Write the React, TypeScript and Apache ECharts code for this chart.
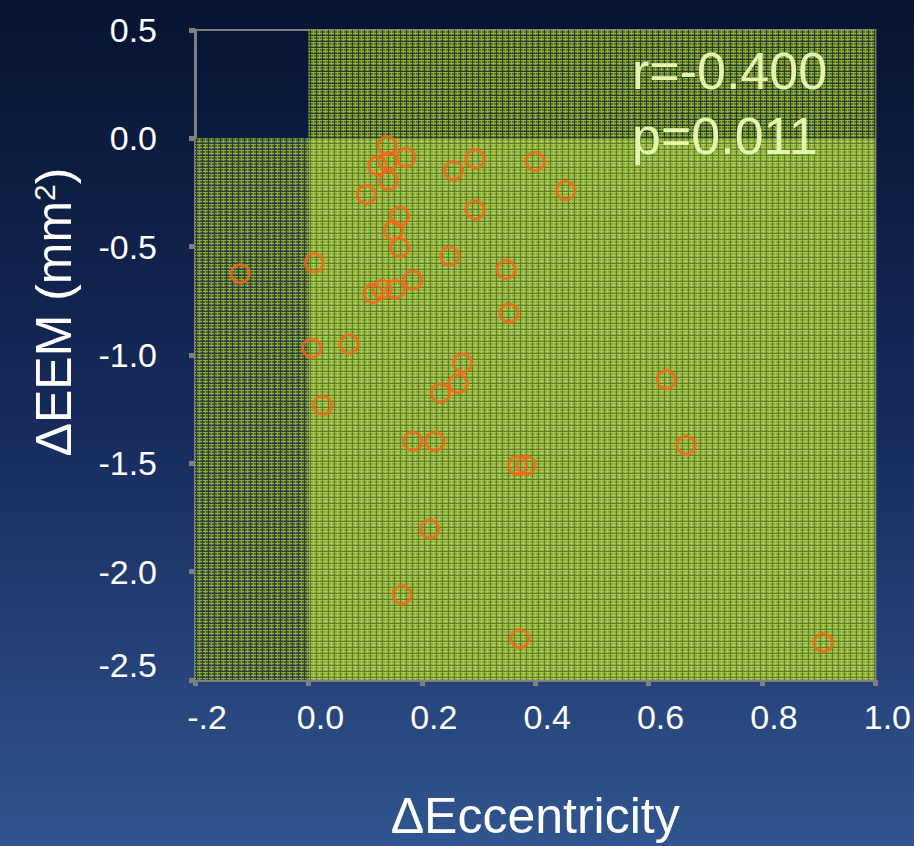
import React, { useEffect, useRef } from "react";
import * as echarts from "echarts";

const eccentricity = [
  -0.12, 0.01, 0.006, 0.025, 0.072, 0.102, 0.114, 0.13, 0.153, 0.122,
  0.139, 0.141, 0.14, 0.172, 0.161, 0.15, 0.161, 0.184, 0.184, 0.223,
  0.233, 0.264, 0.272, 0.249, 0.256, 0.294, 0.294, 0.349, 0.354, 0.4,
  0.454, 0.369, 0.384, 0.214, 0.165, 0.373, 0.631, 0.666, 0.908,
];
const eem = [
  -0.624, -0.575, -0.968, -1.232, -0.949, -0.259, -0.716, -0.697, -0.697, -0.126,
  -0.034, -0.195, -0.106, -0.088, -0.36, -0.425, -0.504, -0.654, -1.398, -1.398,
  -1.175, -1.132, -1.037, -0.544, -0.149, -0.095, -0.33, -0.605, -0.807, -0.106,
  -0.241, -1.509, -1.509, -1.803, -2.107, -2.309, -1.114, -1.417, -2.327,
];
const xTicks = { min: -0.2, max: 1.0, interval: 0.2 };
const yTicks = { min: -2.5, max: 0.5, interval: 0.5 };
const statLines = ["r=-0.400", "p=0.011"];

function makePattern(base: string, light: string, dark: string): any {
  const c = document.createElement("canvas");
  c.width = 6;
  c.height = 6;
  const ctx = c.getContext("2d");
  if (!ctx) return base;
  ctx.fillStyle = base;
  ctx.fillRect(0, 0, 6, 6);
  ctx.fillStyle = light;
  ctx.fillRect(0, 0, 6, 1);
  ctx.fillRect(0, 3, 6, 1);
  ctx.fillRect(1, 0, 1, 6);
  ctx.fillStyle = dark;
  ctx.fillRect(4, 0, 1, 6);
  ctx.fillRect(0, 5, 6, 1);
  return { image: c.toDataURL(), repeat: "repeat" };
}

export default function App() {
  const ref = useRef<HTMLDivElement>(null);
  useEffect(() => {
    if (!ref.current) return;
    const chart = echarts.init(ref.current, null, { renderer: "svg" });
    const font = "'Liberation Sans', Arial, sans-serif";
    const axisGray = "#7f7f7f";
    const bright = makePattern("#88a83a", "#aacd4a", "#607c32");
    const upper = makePattern("#56712b", "#8cb03a", "#2c3c24");
    const left = makePattern("#4b6131", "#88aa3c", "#2c3c40");
    chart.setOption({
      animation: false,
      backgroundColor: {
        type: "linear", x: 0, y: 0, x2: 0, y2: 1,
        colorStops: [
          { offset: 0, color: "#061430" },
          { offset: 0.5, color: "#172b5c" },
          { offset: 1, color: "#30558f" },
        ],
      },
      grid: {
        left: 195, right: 26, top: 30, bottom: 163,
        show: true, borderColor: axisGray, borderWidth: 2,
        backgroundColor: "transparent",
      },
      xAxis: {
        type: "value",
        min: xTicks.min, max: xTicks.max, interval: xTicks.interval,
        name: "ΔEccentricity",
        nameLocation: "middle",
        nameGap: 111,
        nameTextStyle: { color: "#ffffff", fontSize: 50, fontFamily: font },
        axisLine: { show: true, onZero: false, lineStyle: { color: axisGray, width: 3 } },
        axisTick: { show: true, length: 6, lineStyle: { color: axisGray, width: 5 } },
        splitLine: { show: false },
        axisLabel: {
          color: "#ffffff", fontSize: 34, fontFamily: font, margin: 20,
          padding: [0, 0, 0, 24],
          formatter: (v: number) => (Math.abs(v + 0.2) < 1e-9 ? "-.2" : v.toFixed(1)),
        },
      },
      yAxis: {
        type: "value",
        min: yTicks.min, max: yTicks.max, interval: yTicks.interval,
        axisLine: { show: true, onZero: false, lineStyle: { color: axisGray, width: 3 } },
        axisTick: { show: true, length: 6, lineStyle: { color: axisGray, width: 5 } },
        splitLine: { show: false },
        axisLabel: {
          color: "#ffffff", fontSize: 34, fontFamily: font, margin: 38,
          formatter: (v: number) =>
            Math.abs(v - yTicks.min) < 1e-9 ? "{up|" + v.toFixed(1) + "}" : v.toFixed(1),
          rich: {
            up: { color: "#ffffff", fontSize: 34, fontFamily: font, padding: [0, 0, 30, 0] },
          },
        },
      },
      graphic: [
        {
          type: "text", x: 54, y: 312, rotation: Math.PI / 2,
          style: {
            text: "ΔEEM (mm{sup|2})",
            fill: "#ffffff", fontSize: 50, fontFamily: font,
            align: "center", verticalAlign: "middle",
            rich: { sup: { fontSize: 30, fill: "#ffffff", fontFamily: font, verticalAlign: "top", padding: [0, 0, 20, 0] } },
          },
        },
        {
          type: "text", left: 632, top: 45, z: 10,
          style: { text: statLines[0], fill: "#e6f5ae", fontSize: 52, fontFamily: font },
        },
        {
          type: "text", left: 632, top: 110, z: 10,
          style: { text: statLines[1], fill: "#e6f5ae", fontSize: 52, fontFamily: font },
        },
      ],
      series: [
        {
          type: "scatter",
          data: [],
          z: 1,
          silent: true,
          markArea: {
            silent: true,
            label: { show: false },
            data: [
              [{ xAxis: 0, yAxis: yTicks.min, itemStyle: { color: bright, opacity: 1 } }, { xAxis: xTicks.max, yAxis: 0 }],
              [{ xAxis: 0, yAxis: 0, itemStyle: { color: upper, opacity: 1 } }, { xAxis: xTicks.max, yAxis: yTicks.max }],
              [{ xAxis: xTicks.min, yAxis: yTicks.min, itemStyle: { color: left, opacity: 1 } }, { xAxis: 0, yAxis: 0 }],
            ],
          },
        },
        {
          type: "scatter",
          z: 5,
          symbol: "circle",
          symbolSize: 18,
          itemStyle: { color: "rgba(0,0,0,0)", borderColor: "#fa6414", borderWidth: 3 },
          data: eccentricity.map((x, i) => [x, eem[i]]),
        },
      ],
    });
    return () => chart.dispose();
  }, []);
  return (
    <div
      ref={ref}
      style={{ position: "fixed", left: 0, top: 0, width: 914, height: 846 }}
    />
  );
}
